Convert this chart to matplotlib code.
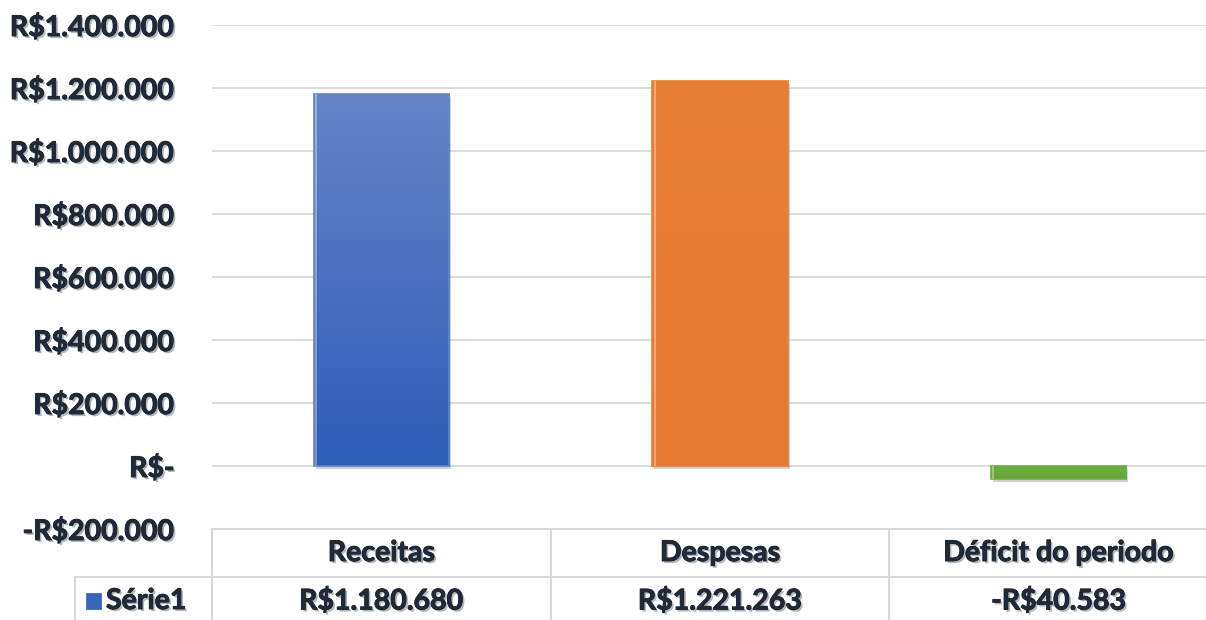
import matplotlib
matplotlib.use("Agg")
import matplotlib.pyplot as plt
import matplotlib.patheffects as pe
import matplotlib.transforms as mtransforms
import numpy as np
from matplotlib.colors import LinearSegmentedColormap

categories = ["Receitas", "Despesas", "Déficit do periodo"]
values = [1180680, 1221263, -40583]
value_labels = ["R$1.180.680", "R$1.221.263", "-R$40.583"]
series_name = "Série1"
yticks = [-200000, 0, 200000, 400000, 600000, 800000, 1000000, 1200000, 1400000]
ytick_labels = ["-R$200.000", "R$-", "R$200.000", "R$400.000", "R$600.000",
                "R$800.000", "R$1.000.000", "R$1.200.000", "R$1.400.000"]
bar_gradients = [("#6684c8", "#2d5db6"), ("#e97e35", "#e4792e"), ("#6fb042", "#64a23a")]

plt.rcParams['font.family'] = ['Lato', 'DejaVu Sans']

W, H = 1206, 620
fig = plt.figure(figsize=(W / 100, H / 100), dpi=100)
fig.patch.set_facecolor("white")

left, right, top, bottom = 212, 1228, 25, 529
ax = fig.add_axes([left / W, 1 - bottom / H, (right - left) / W, (bottom - top) / H])
ax.set_xlim(-0.5, 2.5)
ax.set_ylim(-200000, 1400000)
for s in ax.spines.values():
    s.set_visible(False)
ax.set_xticks([])
ax.set_yticks(yticks)
ax.yaxis.grid(True, color="#d9d9d9", linewidth=1.3)
ax.set_axisbelow(True)
ax.tick_params(axis="y", length=0, pad=27)

text_color = "#1f2937"
FS = 20.5
shadow = [pe.withSimplePatchShadow(offset=(1.5, -1.5), shadow_rgbFace="#7a7a7a", alpha=0.55),
          pe.withStroke(linewidth=0.7, foreground=text_color)]
ax.set_yticklabels(ytick_labels, fontsize=FS, fontweight="bold", color=text_color)
for lbl in ax.get_yticklabels():
    lbl.set_path_effects(shadow)

x = np.arange(len(categories))
bars = ax.bar(x, values, width=0.40, color="none", edgecolor="none", zorder=3)
for b, (c1, c2) in zip(bars, bar_gradients):
    bx, by, bw, bh = b.get_x(), b.get_y(), b.get_width(), b.get_height()
    y0, y1 = min(by, by + bh), max(by, by + bh)
    ax.bar(bx + bw / 2 + 0.006, y1 - y0, bottom=y0 - 9000, width=bw, color="#000000",
           alpha=0.18, zorder=2, linewidth=0)
    cmap = LinearSegmentedColormap.from_list("g", [c2, c1])
    grad = np.linspace(0, 1, 256).reshape(-1, 1)
    im = ax.imshow(grad, cmap=cmap, aspect="auto", origin="lower",
                   extent=[bx, bx + bw, y0, y1], zorder=3)
    im.set_clip_path(b)
    ax.add_patch(plt.Rectangle((bx, y0), bw, y1 - y0, fill=False,
                               edgecolor=c1, linewidth=1.2, zorder=4))
    ax.add_patch(plt.Rectangle((bx + 0.004, y0), 0.006, y1 - y0, color="white",
                               alpha=0.35, zorder=4, linewidth=0))

# data table
tr = mtransforms.blended_transform_factory(ax.transData, fig.transFigure)
ftr = fig.transFigure
def fy(py):
    return 1 - py / H

line_kw = dict(color="#d9d9d9", linewidth=1.5, clip_on=False)
row1, row2 = 529, 577
fig.add_artist(plt.Line2D([75 / W, 1], [fy(row2), fy(row2)], transform=ftr, **line_kw))
fig.add_artist(plt.Line2D([75 / W, 75 / W], [fy(row2), 0], transform=ftr, **line_kw))
for xb in [-0.5, 0.5, 1.5]:
    fig.add_artist(plt.Line2D([xb, xb], [fy(row1), 0], transform=tr, **line_kw))
fig.add_artist(plt.Line2D([-0.5, 2.5], [fy(row1), fy(row1)], transform=tr, **line_kw))

for xi, cat, vl in zip(x, categories, value_labels):
    fig.text(xi, fy(553), cat, transform=tr, ha="center", va="center", fontsize=FS,
             fontweight="bold", color=text_color, path_effects=shadow)
    fig.text(xi, fy(601), vl, transform=tr, ha="center", va="center", fontsize=FS,
             fontweight="bold", color=text_color, path_effects=shadow)

fig.add_artist(plt.Rectangle((86 / W, fy(609)), 15 / W, 16 / H, transform=ftr,
                             facecolor="#3a66bb", edgecolor="#2c5cb5", linewidth=0.5))
fig.text(106 / W, fy(601), series_name, ha="left", va="center", fontsize=FS,
         fontweight="bold", color=text_color, path_effects=shadow)

fig.savefig("out.png", dpi=100, facecolor="white")
